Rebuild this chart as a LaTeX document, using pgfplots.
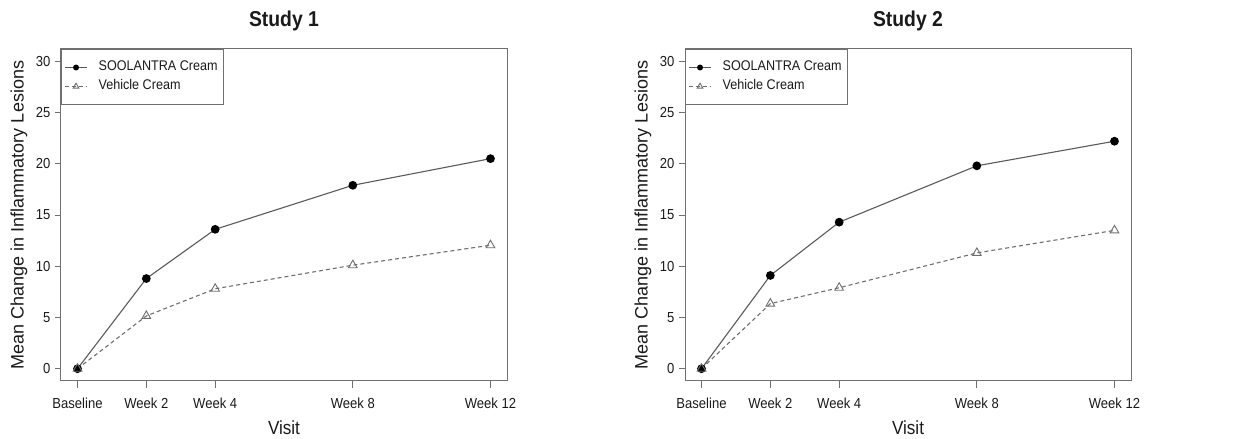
\documentclass[border=0pt]{standalone}
\usepackage{fontspec}
\setmainfont{Liberation Sans}[FakeStretch=0.9]
\newfontfamily\ylabfont{Liberation Sans}
\usepackage{pgfplots}
\pgfplotsset{compat=1.18}

\definecolor{boxgray}{HTML}{707070}
\definecolor{txt}{HTML}{1A1A1A}
\definecolor{soolc}{HTML}{5A5A5A}
\definecolor{vehc}{HTML}{6E6E6E}

\pgfplotsset{
  panel/.style={
    width=446pt, height=332pt, scale only axis,
    xmin=-0.48, xmax=12.48, ymin=-1.2, ymax=31.2,
    xtick={0,2,4,8,12},
    xticklabels={Baseline,Week 2,Week 4,Week 8,Week 12},
    ytick={0,5,10,15,20,25,30},
    tick pos=left, tick align=outside,
    major tick length=6.5pt,
    axis line style={boxgray, line width=1pt},
    every tick/.style={boxgray, line width=0.9pt},
    /pgf/number format/assume math mode=true,
    ticklabel style={font=\fontsize{14.5}{16}\selectfont, text=txt},
    yticklabel style={xshift=-0.5pt},
    xticklabel style={yshift=-7pt},
    title style={at={(axis description cs:0.5,1)}, anchor=base, yshift=16pt,
      font=\bfseries\fontsize{21.5}{24}\selectfont, text=txt},
    xlabel={Visit},
    xlabel style={at={(axis description cs:0.5,0)}, anchor=base, yshift=-54pt,
      font=\fontsize{19}{21}\selectfont, text=txt},
    ylabel={Mean Change in Inflammatory Lesions},
    ylabel style={at={(axis description cs:0,0.5)}, anchor=center,
      yshift=42pt, font=\ylabfont\fontsize{18}{20}\selectfont, text=txt},
    legend style={at={(axis description cs:0,1)}, anchor=north west,
      draw=boxgray, line width=1pt, fill=white,
      inner xsep=3pt, inner ysep=10.5pt, row sep=4pt, column sep=10pt,
      font=\fontsize{14}{16}\selectfont, text=txt,
      nodes={inner sep=1pt, text height=10pt, text depth=3pt}},
    legend cell align=left,
  },
  sool/.style={soolc, line width=1.1pt, mark=*, mark size=3.8pt,
    mark options={solid, fill=black, draw=black}},
  veh/.style={vehc, line width=1.1pt, dash pattern=on 4pt off 3pt,
    mark=triangle, mark size=5pt,
    mark options={solid, fill=white, draw=vehc, line width=0.9pt}},
  sool legend/.style={legend image code/.code={
    \draw[##1, mark repeat=2, mark phase=2, mark size=2.4pt]
      plot coordinates {(0pt,0pt) (11pt,0pt) (22pt,0pt)};}},
  veh legend/.style={legend image code/.code={
    \draw[##1, mark repeat=2, mark phase=2, mark size=3.3pt]
      plot coordinates {(0pt,0pt) (11pt,0pt) (22pt,0pt)};}},
}

\begin{document}
\begin{tikzpicture}
\useasboundingbox (0pt,0pt) rectangle (1248pt,439pt);

% Study 1
\begin{axis}[panel, at={(61pt,58pt)}, anchor=south west, title={Study 1}]
  \addplot[sool, sool legend] coordinates {
    (0,0) (2,8.8) (4,13.6) (8,17.9) (12,20.5)
  };
  \addlegendentry{\hbox to 121pt{SOOLANTRA Cream\hfil}}
  \addplot[veh, veh legend] coordinates {
    (0,0) (2,5.15) (4,7.8) (8,10.1) (12,12.05)
  };
  \addlegendentry{Vehicle Cream}
\end{axis}

% Study 2
\begin{axis}[panel, at={(685pt,58pt)}, anchor=south west, title={Study 2}]
  \addplot[sool, sool legend] coordinates {
    (0,0) (2,9.1) (4,14.3) (8,19.8) (12,22.2)
  };
  \addlegendentry{\hbox to 121pt{SOOLANTRA Cream\hfil}}
  \addplot[veh, veh legend] coordinates {
    (0,0) (2,6.35) (4,7.9) (8,11.3) (12,13.5)
  };
  \addlegendentry{Vehicle Cream}
\end{axis}
\end{tikzpicture}
\end{document}
